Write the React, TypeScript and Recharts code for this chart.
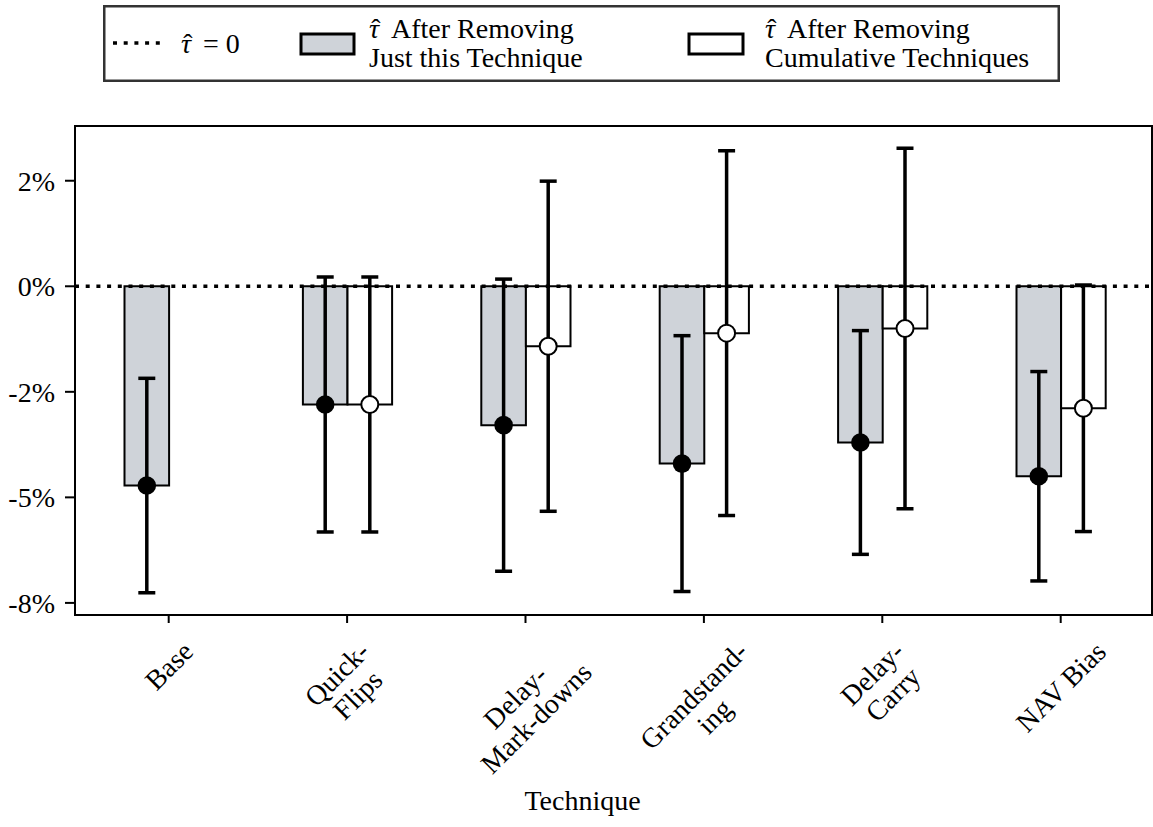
import {
  Bar,
  BarChart,
  ErrorBar,
  LabelList,
  Legend,
  ReferenceLine,
  XAxis,
  YAxis,
  usePlotArea,
} from "recharts";

// Effect estimates (in %) and symmetric 95% CI half-widths per technique
const techniques = [
  "Base",
  "Quick-\nFlips",
  "Delay-\nMark-downs",
  "Grandstand-\ning",
  "Delay-\nCarry",
  "NAV Bias",
];
const justThis = [-4.72, -2.8, -3.29, -4.2, -3.7, -4.5];
const justThisCi = [2.54, 3.02, 3.46, 3.03, 2.65, 2.48];
const cumulative = [null, -2.8, -1.42, -1.11, -1.0, -2.89];
const cumulativeCi = [null, 3.02, 3.91, 4.32, 4.27, 2.92];

const yTicks = [-7.5, -5, -2.5, 0, 2.5];
const yTickLabels = ["-8%", "-5%", "-2%", "0%", "2%"];

const data = techniques.map((name, i) => ({
  name,
  justThis: justThis[i],
  justThisCi: justThisCi[i],
  cumulative: cumulative[i],
  cumulativeCi: cumulativeCi[i],
}));

// autoscale like matplotlib: data extent of the error bars plus 5% margins
const lows = data.flatMap((d) => [
  d.justThis - d.justThisCi,
  d.cumulative == null ? Infinity : d.cumulative - (d.cumulativeCi ?? 0),
]);
const highs = data.flatMap((d) => [
  d.justThis + d.justThisCi,
  d.cumulative == null ? -Infinity : d.cumulative + (d.cumulativeCi ?? 0),
]);
const lo = Math.min(...lows);
const hi = Math.max(...highs);
const yDomain = [lo - 0.05 * (hi - lo), hi + 0.05 * (hi - lo)];

const FONT = '"Liberation Serif", "Times New Roman", serif';
const FS = 28;
const GRAY = "#cfd3d9";

let ctx: CanvasRenderingContext2D | null = null;
function textWidth(s: string) {
  if (!ctx) ctx = document.createElement("canvas").getContext("2d");
  if (!ctx) return s.length * FS * 0.5;
  ctx.font = `${FS}px ${FONT}`;
  return ctx.measureText(s).width;
}

// rotated, multi-line tick label whose bounding box hangs centred under the tick
function TechniqueTick({ x, y, payload }: any) {
  const lines = String(payload.value).split("\n");
  const lineH = FS * 1.05;
  const w = Math.max(...lines.map(textWidth));
  const h = lines.length * lineH;
  const d = (w + h) / (2 * Math.SQRT2);
  return (
    <g transform={`translate(${x},${y + d})`}>
      <text
        transform="rotate(-45)"
        textAnchor="middle"
        fontFamily={FONT}
        fontSize={FS}
        fill="#000"
      >
        {lines.map((ln, i) => (
          <tspan key={i} x={0} y={(i - (lines.length - 1) / 2) * lineH} dy="0.35em">
            {ln}
          </tspan>
        ))}
      </text>
    </g>
  );
}

function tipDot(fill: string) {
  return (props: any) => {
    const { value, index } = props;
    if (value == null) return null;
    const vb = props.viewBox ?? props;
    const x = Number(vb.x);
    const y = Number(vb.y);
    const w = Number(vb.width);
    const h = Number(vb.height);
    const cy = Math.max(y, y + h);
    return (
      <circle
        key={`dot-${index}`}
        cx={x + w / 2}
        cy={cy}
        r={fill === "#000" ? 9.3 : 8.5}
        fill={fill}
        stroke="#000"
        strokeWidth={fill === "#000" ? 0 : 2}
      />
    );
  };
}

// four-sided axes frame around the plotting area
function Frame() {
  const area = usePlotArea();
  if (!area) return null;
  return (
    <rect
      x={area.x}
      y={area.y}
      width={area.width}
      height={area.height}
      fill="none"
      stroke="#000"
      strokeWidth={2}
    />
  );
}

// italic tau with a hat accent placed over it
function TauHat({ x, y }: { x: number; y: number }) {
  return (
    <text x={x} y={y} fontFamily={FONT} fontSize={FS} fill="#000">
      <tspan fontStyle="italic">τ</tspan>
      <tspan x={x + FS * 0.08} y={y}>
        ˆ
      </tspan>
    </text>
  );
}

function LegendBox() {
  const txt = { fontFamily: FONT, fontSize: FS, fill: "#000" };
  return (
    <svg width={957} height={77} style={{ display: "block" }}>
      <rect x={1.25} y={1.25} width={954.5} height={74.5} fill="#fff" stroke="#333" strokeWidth={2.5} />
      <line x1={10} y1={38} x2={58} y2={38} stroke="#000" strokeWidth={3.5} strokeDasharray="4 6.7" />
      <TauHat x={78} y={48} />
      <text x={100} y={48} {...txt}>
        = 0
      </text>
      <rect x={198} y={29} width={53} height={20} fill={GRAY} stroke="#000" strokeWidth={3} />
      <TauHat x={266} y={33} />
      <text x={288} y={33} {...txt}>
        After Removing
      </text>
      <text x={266} y={62} {...txt}>
        Just this Technique
      </text>
      <rect x={586} y={29} width={54} height={20} fill="#fff" stroke="#000" strokeWidth={3} />
      <TauHat x={662} y={33} />
      <text x={684} y={33} {...txt}>
        After Removing
      </text>
      <text x={662} y={62} {...txt}>
        Cumulative Techniques
      </text>
    </svg>
  );
}

function AxisTitle(props: any) {
  const vb = props.viewBox ?? {};
  return (
    <text
      x={vb.x + vb.width / 2 - 31}
      y={vb.y + vb.height - 17}
      textAnchor="middle"
      fontFamily={FONT}
      fontSize={FS}
      fill="#000"
    >
      Technique
    </text>
  );
}

const axisStroke = { stroke: "#000", strokeWidth: 2 };

export default function App() {
  return (
    <div style={{ position: "absolute", left: 0, top: 0, width: 1153, height: 827, background: "#fff" }}>
      <BarChart
        width={1153}
        height={827}
        data={data}
        margin={{ top: 126, right: 1, bottom: 0, left: 0 }}
        barGap={0}
        barSize={44.6}
      >
        <XAxis
          dataKey="name"
          interval={0}
          tick={<TechniqueTick />}
          tickLine={axisStroke}
          axisLine={axisStroke}
          tickSize={8}
          tickMargin={13}
          height={212}
          padding={{ left: 4.5, right: 2.1 }}
          label={<AxisTitle />}
        />
        <YAxis
          type="number"
          domain={yDomain}
          ticks={yTicks}
          allowDataOverflow
          tickFormatter={(v: number) => yTickLabels[yTicks.indexOf(v)] ?? ""}
          tick={{ fill: "#000", fontSize: FS, fontFamily: FONT }}
          tickLine={axisStroke}
          axisLine={axisStroke}
          tickSize={10}
          tickMargin={10}
          width={75}
        />
        <Bar dataKey="justThis" fill={GRAY} stroke="#000" strokeWidth={2} isAnimationActive={false}>
          <ErrorBar dataKey="justThisCi" direction="y" width={8.5} stroke="#000" strokeWidth={3.5} />
          <LabelList dataKey="justThis" content={tipDot("#000")} />
        </Bar>
        <Bar dataKey="cumulative" fill="#fff" stroke="#000" strokeWidth={2} isAnimationActive={false}>
          <ErrorBar dataKey="cumulativeCi" direction="y" width={8.5} stroke="#000" strokeWidth={3.5} />
          <LabelList dataKey="cumulative" content={tipDot("#fff")} />
        </Bar>
        <ReferenceLine y={0} stroke="#000" strokeWidth={3.5} strokeDasharray="4 6.7" />
        <Frame />
        <Legend
          layout="horizontal"
          verticalAlign="middle"
          align="center"
          wrapperStyle={{ top: 5, left: 103, width: 957, height: 77 }}
          content={<LegendBox />}
        />
      </BarChart>
    </div>
  );
}
